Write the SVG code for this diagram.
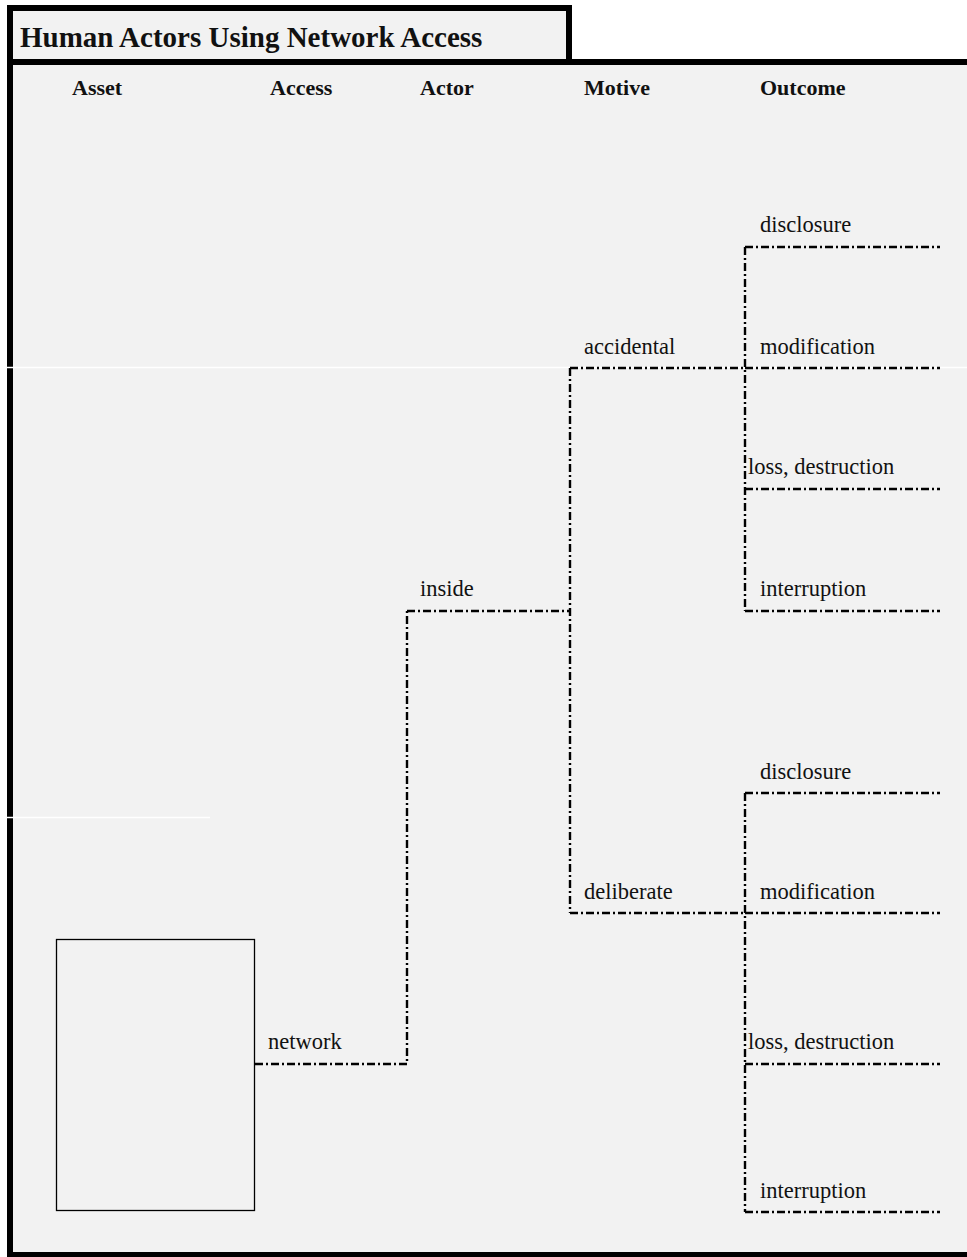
<svg xmlns="http://www.w3.org/2000/svg" width="967" height="1257" viewBox="0 0 967 1257">
<style>
.t{font-family:"Liberation Serif","Times New Roman",serif;fill:#111}
.h{font-size:22px;font-weight:bold}
.l{font-size:22.5px}
.c{fill:none;stroke:#000;stroke-width:2.4;stroke-dasharray:8,3,2,3}
</style>
<rect width="967" height="1257" fill="#fff"/>
<g id="panel">
<rect x="10" y="62" width="960" height="1192" fill="#f2f2f2"/>
<rect x="10" y="8" width="559" height="54" fill="#f2f2f2" stroke="#000" stroke-width="6"/>
<path d="M10 62 H967 M10 62 V1255 H967" fill="none" stroke="#000" stroke-width="6"/>
<path d="M0 367.5 H967 M0 817.5 H210" stroke="#fff" stroke-width="1.5"/>
<text class="t" x="20" y="47" font-size="29" font-weight="bold">Human Actors Using Network Access</text>
</g>
<g id="headers">
<text class="t h" x="72" y="95">Asset</text>
<text class="t h" x="270" y="95">Access</text>
<text class="t h" x="420" y="95">Actor</text>
<text class="t h" x="584" y="95">Motive</text>
<text class="t h" x="760" y="95">Outcome</text>
</g>
<g id="connectors">
<path class="c" d="M255 1064 H407 V611"/>
<path class="c" d="M407 611 H570"/>
<path class="c" d="M570 368 V913"/>
<path class="c" d="M570 368 H745"/>
<path class="c" d="M570 913 H745"/>
<path class="c" d="M745 247 V611"/>
<path class="c" d="M745 793 V1212"/>
<path class="c" d="M745 247 H940 M745 368 H940 M745 489 H940 M745 611 H940"/>
<path class="c" d="M745 793 H940 M745 913 H940 M745 1064 H940 M745 1212 H940"/>
</g>
<g id="asset"><rect x="56.5" y="939.5" width="198" height="271" fill="none" stroke="#000" stroke-width="1.3"/></g>
<g id="network"><text class="t l" x="268" y="1049">network</text></g>
<g id="inside"><text class="t l" x="420" y="596">inside</text></g>
<g id="accidental"><text class="t l" x="584" y="354">accidental</text></g>
<g id="deliberate"><text class="t l" x="584" y="899">deliberate</text></g>
<g id="acc-disclosure"><text class="t l" x="760" y="232">disclosure</text></g>
<g id="acc-modification"><text class="t l" x="760" y="354">modification</text></g>
<g id="acc-loss"><text class="t l" x="748" y="474">loss, destruction</text></g>
<g id="acc-interruption"><text class="t l" x="760" y="596">interruption</text></g>
<g id="del-disclosure"><text class="t l" x="760" y="779">disclosure</text></g>
<g id="del-modification"><text class="t l" x="760" y="899">modification</text></g>
<g id="del-loss"><text class="t l" x="748" y="1049">loss, destruction</text></g>
<g id="del-interruption"><text class="t l" x="760" y="1198">interruption</text></g>
</svg>
